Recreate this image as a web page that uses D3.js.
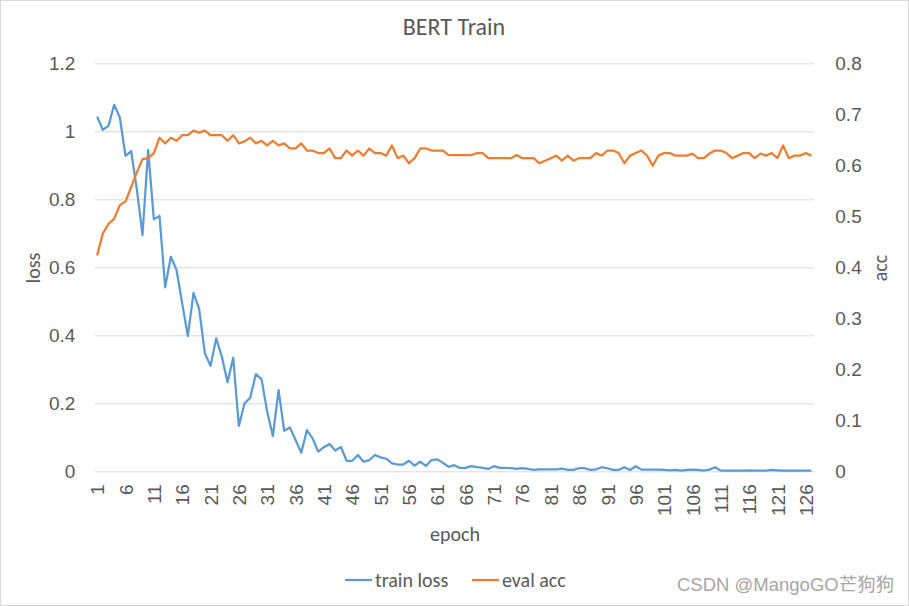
<!DOCTYPE html>
<meta charset="utf-8">
<title>BERT Train</title>
<style>
  body { margin: 0; background: #fff; }
  svg { font-family: Carlito, Calibri, Lato, "Noto Sans CJK SC", sans-serif; }
  .grid line { stroke: #d9d9d9; stroke-width: 1; }
  .tick text { fill: #595959; font-size: 19px; }
  .title { fill: #595959; font-size: 24px; }
  .axis-title { fill: #595959; font-size: 20px; }
  .legend text { fill: #595959; font-size: 20px; }
  .mark { fill: #a6a6a6; font-size: 18.5px; font-family: "Liberation Sans", Arial, "Noto Sans CJK SC", sans-serif; }
</style>
<body>
<script src="https://d3js.org/d3.v7.min.js"></script>
<script>
// 127 epochs
var epochs = d3.range(1, 128);

var trainLoss = [
  1.043, 1.004, 1.016, 1.078, 1.041, 0.928, 0.942, 0.83, 0.695, 0.945,
  0.741, 0.751, 0.541, 0.631, 0.592, 0.494, 0.398, 0.525, 0.477, 0.347,
  0.310, 0.391, 0.337, 0.262, 0.334, 0.133, 0.200, 0.216, 0.286, 0.271,
  0.175, 0.104, 0.239, 0.119, 0.129, 0.092, 0.055, 0.121, 0.097, 0.058,
  0.071, 0.080, 0.061, 0.072, 0.031, 0.031, 0.048, 0.028, 0.033, 0.048,
  0.041, 0.037, 0.023, 0.020, 0.020, 0.031, 0.017, 0.028, 0.016, 0.033,
  0.035, 0.025, 0.013, 0.018, 0.010, 0.010, 0.015, 0.012, 0.010, 0.007,
  0.015, 0.010, 0.010, 0.009, 0.007, 0.009, 0.007, 0.004, 0.006, 0.006,
  0.006, 0.006, 0.008, 0.004, 0.004, 0.009, 0.009, 0.004, 0.006, 0.012,
  0.009, 0.004, 0.004, 0.012, 0.004, 0.015, 0.005, 0.005, 0.005, 0.005,
  0.004, 0.003, 0.004, 0.002, 0.004, 0.005, 0.004, 0.002, 0.005, 0.012,
  0.002, 0.002, 0.002, 0.002, 0.002, 0.003, 0.002, 0.002, 0.002, 0.004,
  0.003, 0.002, 0.002, 0.002, 0.002, 0.002, 0.002
];

var evalAcc = [
  0.423, 0.466, 0.485, 0.495, 0.522, 0.529, 0.557, 0.586, 0.612, 0.614,
  0.624, 0.654, 0.643, 0.654, 0.648, 0.659, 0.659, 0.668, 0.664, 0.668,
  0.659, 0.659, 0.659, 0.648, 0.659, 0.643, 0.647, 0.654, 0.643, 0.648,
  0.639, 0.648, 0.639, 0.643, 0.633, 0.633, 0.643, 0.629, 0.629, 0.624,
  0.624, 0.633, 0.614, 0.614, 0.629, 0.619, 0.629, 0.619, 0.633, 0.624,
  0.624, 0.619, 0.639, 0.614, 0.619, 0.604, 0.614, 0.633, 0.633, 0.629,
  0.629, 0.629, 0.620, 0.620, 0.620, 0.620, 0.620, 0.624, 0.624, 0.614,
  0.614, 0.614, 0.614, 0.614, 0.620, 0.614, 0.614, 0.614, 0.604, 0.609,
  0.614, 0.619, 0.609, 0.619, 0.609, 0.614, 0.614, 0.614, 0.624, 0.619,
  0.629, 0.629, 0.624, 0.604, 0.619, 0.624, 0.629, 0.619, 0.599, 0.619,
  0.624, 0.624, 0.619, 0.619, 0.619, 0.623, 0.614, 0.614, 0.623, 0.629,
  0.629, 0.624, 0.614, 0.619, 0.624, 0.624, 0.614, 0.623, 0.619, 0.624,
  0.614, 0.639, 0.614, 0.619, 0.619, 0.624, 0.619
];

var lossTicks = [0, 0.2, 0.4, 0.6, 0.8, 1, 1.2];
var accTicks = [0, 0.1, 0.2, 0.3, 0.4, 0.5, 0.6, 0.7, 0.8];
var epochTicks = epochs.filter(function(d) { return (d - 1) % 5 === 0; });

var W = 909, H = 606;
var plot = { left: 94.3, right: 814.3, top: 63.3, bottom: 471.3 };

var svg = d3.select("body").append("svg")
    .attr("width", W)
    .attr("height", H);

svg.append("rect")
    .attr("x", 0.5).attr("y", 0.5)
    .attr("width", W - 1).attr("height", H - 1)
    .attr("fill", "#fff")
    .attr("stroke", "#d9d9d9");

var x = d3.scalePoint()
    .domain(epochs)
    .range([plot.left, plot.right])
    .padding(0.5);

var yLoss = d3.scaleLinear()
    .domain([0, 1.2])
    .range([plot.bottom, plot.top]);

var yAcc = d3.scaleLinear()
    .domain([0, 0.8])
    .range([plot.bottom, plot.top]);

// left axis + gridlines
var leftAxis = svg.append("g")
    .attr("class", "grid")
    .attr("transform", "translate(" + plot.left + ",0)")
    .call(d3.axisLeft(yLoss)
        .tickValues(lossTicks)
        .tickFormat(d3.format(""))
        .tickSize(-(plot.right - plot.left))
        .tickPadding(19));
leftAxis.select(".domain").remove();
leftAxis.selectAll(".tick text").attr("dy", "0.35em");

// right axis (labels only)
var rightAxis = svg.append("g")
    .attr("transform", "translate(" + plot.right + ",0)")
    .call(d3.axisRight(yAcc)
        .tickValues(accTicks)
        .tickFormat(d3.format(""))
        .tickSize(0)
        .tickPadding(21));
rightAxis.select(".domain").remove();
rightAxis.selectAll(".tick text").attr("dy", "0.35em");

// bottom axis
var bottomAxis = svg.append("g")
    .attr("transform", "translate(0," + plot.bottom + ")")
    .call(d3.axisBottom(x)
        .tickValues(epochTicks)
        .tickSize(0));
bottomAxis.select(".domain").remove();
bottomAxis.selectAll(".tick text")
    .attr("transform", "rotate(-90)")
    .attr("text-anchor", "end")
    .attr("x", -13)
    .attr("y", 0)
    .attr("dy", "0.35em");

// lines
var lossLine = d3.line()
    .x(function(d, i) { return x(epochs[i]); })
    .y(function(d) { return yLoss(d); });

var accLine = d3.line()
    .x(function(d, i) { return x(epochs[i]); })
    .y(function(d) { return yAcc(d); });

svg.append("path")
    .datum(trainLoss)
    .attr("fill", "none")
    .attr("stroke", "#5b9bd5")
    .attr("stroke-width", 2.25)
    .attr("stroke-linejoin", "round")
    .attr("d", lossLine);

svg.append("path")
    .datum(evalAcc)
    .attr("fill", "none")
    .attr("stroke", "#ed7d31")
    .attr("stroke-width", 2.25)
    .attr("stroke-linejoin", "round")
    .attr("d", accLine);

// titles
svg.append("text")
    .attr("class", "title")
    .attr("x", 454)
    .attr("y", 35)
    .attr("text-anchor", "middle")
    .text("BERT Train");

svg.append("text")
    .attr("class", "axis-title")
    .attr("transform", "translate(40,268) rotate(-90)")
    .attr("text-anchor", "middle")
    .text("loss");

svg.append("text")
    .attr("class", "axis-title")
    .attr("transform", "translate(887,268) rotate(-90)")
    .attr("text-anchor", "middle")
    .text("acc");

svg.append("text")
    .attr("class", "axis-title")
    .attr("x", 455)
    .attr("y", 541)
    .attr("text-anchor", "middle")
    .text("epoch");

// legend
var legendItems = [
  { name: "train loss", color: "#5b9bd5", x: 345 },
  { name: "eval acc", color: "#ed7d31", x: 472 }
];
var legend = svg.append("g").attr("class", "legend");
legendItems.forEach(function(d) {
  legend.append("line")
      .attr("x1", d.x).attr("x2", d.x + 27)
      .attr("y1", 580).attr("y2", 580)
      .attr("stroke", d.color)
      .attr("stroke-width", 2.25);
  legend.append("text")
      .attr("x", d.x + 30)
      .attr("y", 587)
      .text(d.name);
});

svg.append("text")
    .attr("class", "mark")
    .attr("x", 677)
    .attr("y", 591)
    .text("CSDN @MangoGO芒狗狗");
</script>
</body>
